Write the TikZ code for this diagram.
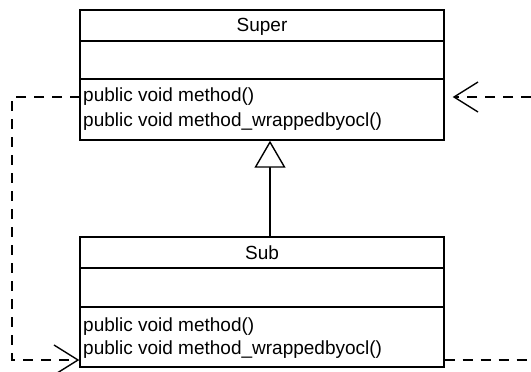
\documentclass[tikz,border=0pt]{standalone}
\usepackage{fontspec}
\setmainfont{Liberation Sans}
\usetikzlibrary{positioning,arrows.meta}

\begin{document}
\begin{tikzpicture}
  [x=1pt,y=-1pt,line width=1.4pt,font=\fontsize{19}{23}\selectfont,
   part/.style={draw, rectangle, minimum width=364pt, inner sep=0pt},
   meth/.style={anchor=west, inner sep=2.5pt},
   dep/.style={dash pattern=on 10pt off 8pt},
   call/.style={dep, -{Straight Barb[length=24pt,width=30pt,line width=1.4pt]}}]
  \useasboundingbox (0,0) rectangle (531,372);

  % Super
  \node[part, minimum height=31pt, text height=15pt] (superName) at (262,25.5) {Super};
  \node[part, minimum height=38pt] (superAttr) at (262,60) {};
  \node[part, minimum height=61pt] (superOps) at (262,109.5) {};
  \node[meth] (superM1) at (80,97) {public void method()};
  \node[meth] (superM2) at (80,122) {public void method\_wrappedbyocl()};

  % Sub
  \node[part, minimum height=31pt, text height=15pt] (subName) at (262,252.5) {Sub};
  \node[part, minimum height=39pt] (subAttr) at (262,287.5) {};
  \node[part, minimum height=60pt] (subOps) at (262,337) {};
  \node[meth] (subM1) at (80,327) {public void method()};
  \node[meth] (subM2) at (80,350) {public void method\_wrappedbyocl()};

  \coordinate (lTop) at (12,97);
  \coordinate (lBot) at (12,360);
  \coordinate (rOut) at (531,360);
  \coordinate (rIn) at (531,97);

  \draw[-{Triangle[open,fill=white,length=27pt,width=31pt]}]
    ([xshift=8pt]subName.north) -- ([xshift=8pt]superOps.south);
  \draw[call] (superM1.west) -- (lTop) -- (lBot) -- (lBot -| subOps.west);
  \draw[dep] (lBot -| subOps.east) -- (rOut);
  \draw[call, shorten >=8pt] (rIn) -- (rIn -| superOps.east);
\end{tikzpicture}
\end{document}
